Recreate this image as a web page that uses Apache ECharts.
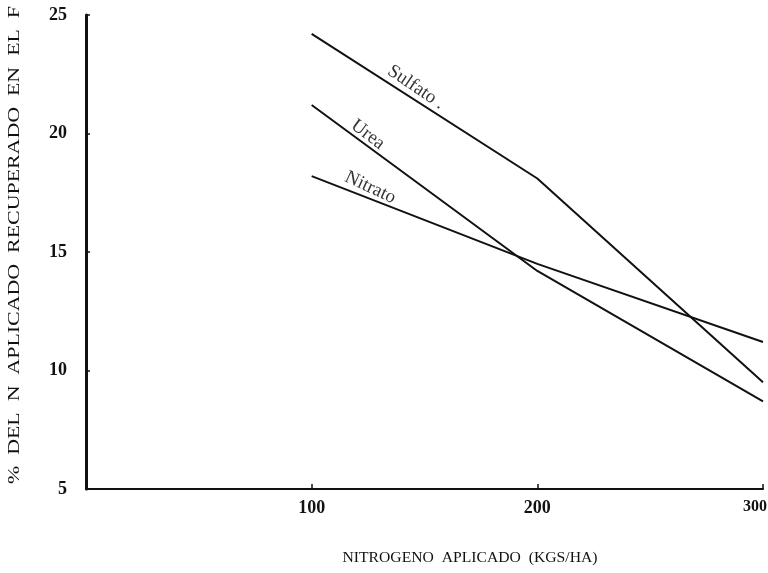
<!DOCTYPE html>
<html>
<head>
<meta charset="utf-8">
<script src="https://cdn.jsdelivr.net/npm/echarts@6/dist/echarts.min.js"></script>
<style>
html,body{margin:0;padding:0;background:#fff;}
#c{width:768px;height:573px;}
</style>
</head>
<body>
<div id="c"></div>
<script>
const xValues = [100, 200, 300];
const sulfato = [24.2, 18.1, 9.5];
const urea = [21.2, 14.2, 8.7];
const nitrato = [18.2, 14.5, 11.2];
const xTickLabels = [100, 200, 300];
const yTickLabels = [5, 10, 15, 20, 25];
const seriesNames = ['Sulfato .', 'Urea', 'Nitrato'];
const yTitle = '%  DEL  N  APLICADO  RECUPERADO  EN  EL  F';
const xTitle = 'NITROGENO  APLICADO  (KGS/HA)';

const pairs = (ys) => xValues.map((x, i) => [x, ys[i]]);

const serif = '"Liberation Serif", "DejaVu Serif", serif';
const chart = echarts.init(document.getElementById('c'), null, {renderer: 'canvas'});

const measure = (txt, font) => {
  const ctx = document.createElement('canvas').getContext('2d');
  ctx.font = font;
  return ctx.measureText(txt).width;
};
const yFont = '16px "Liberation Serif"';
const xFont = '14px "Liberation Serif"';
const yScale = 478 / measure(yTitle, yFont);
const xScale = 255 / measure(xTitle, xFont);

const lineStyle = {color: '#111', width: 2};
const mkLine = (name, ys) => ({
  name, type: 'line', data: pairs(ys), symbol: 'none', lineStyle, silent: true, z: 3
});

// label anchors (data coords) and rotations for the in-plot line names
const labelAnchors = [[146.2, 21.95], [124.9, 19.95], [126, 17.72]];
const labelRot = [-34, -37, -25];

const maxX = xTickLabels[xTickLabels.length - 1];

chart.setOption({
  animation: false,
  backgroundColor: '#fff',
  grid: {left: 86, right: 5, top: 15, bottom: 84, containLabel: false, outerBoundsMode: 'none'},
  xAxis: {
    type: 'value', min: 0, max: 300, interval: 100,
    axisLine: {show: true, onZero: false, lineStyle: {color: '#111', width: 2}},
    axisTick: {show: true, inside: true, length: 5, customValues: xTickLabels, lineStyle: {color: '#111', width: 1.5}},
    axisLabel: {
      customValues: xTickLabels, color: '#111', fontFamily: serif, fontWeight: 'bold', fontSize: 18, margin: 10,
      formatter: (v) => v === maxX ? '{e|' + v + '}' : String(v),
      rich: {e: {fontFamily: serif, fontWeight: 'bold', fontSize: 16, color: '#111', padding: [0, 16, 0, 0]}}
    },
    splitLine: {show: false}
  },
  yAxis: {
    type: 'value', min: 5, max: 25, interval: 5,
    axisLine: {show: true, onZero: false, lineStyle: {color: '#111', width: 3}},
    axisTick: {show: true, inside: true, length: 4, customValues: [10, 15, 20, 25], lineStyle: {color: '#111', width: 1.5}},
    axisLabel: {customValues: yTickLabels, color: '#111', fontFamily: serif, fontWeight: 'bold', fontSize: 18, margin: 19},
    splitLine: {show: false}
  },
  series: [
    mkLine(seriesNames[0], sulfato),
    mkLine(seriesNames[1], urea),
    mkLine(seriesNames[2], nitrato),
    {
      type: 'scatter', symbolSize: 0, silent: true, z: 4,
      data: labelAnchors.map((p, i) => ({
        value: p,
        label: {show: true, position: 'inside', formatter: seriesNames[i], rotate: labelRot[i],
          color: '#000', fontFamily: serif, fontSize: 19}
      }))
    }
  ],
  graphic: [
    {
      type: 'text', x: 15, y: 484, rotation: Math.PI / 2, scaleX: yScale, scaleY: 1,
      style: {text: yTitle, fill: '#111', font: yFont, textAlign: 'left', textVerticalAlign: 'middle'}
    },
    {
      type: 'text', x: 470, y: 558, scaleX: xScale, scaleY: 1,
      style: {text: xTitle, fill: '#111', font: xFont, textAlign: 'center', textVerticalAlign: 'middle'}
    }
  ]
});
</script>
</body>
</html>
